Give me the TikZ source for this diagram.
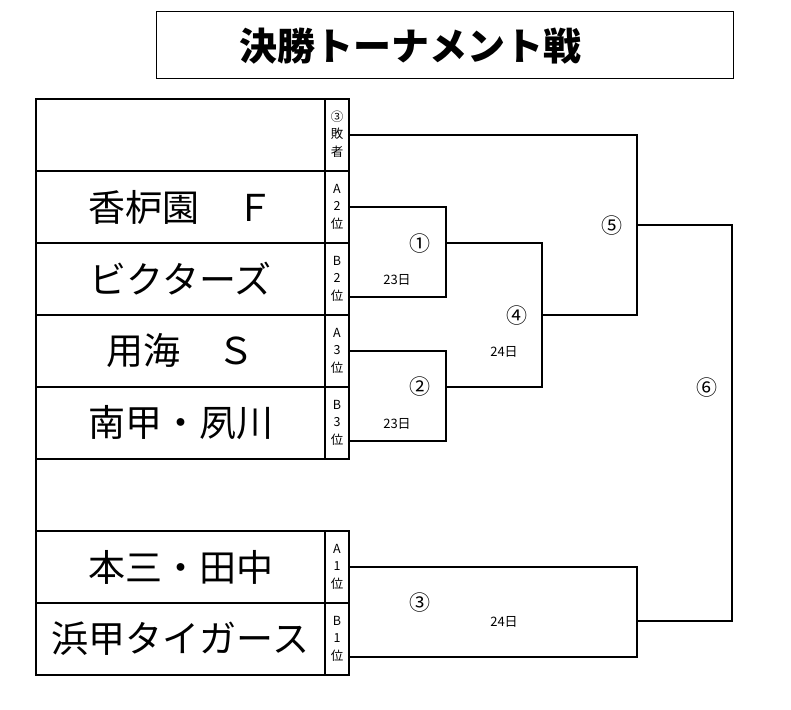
\documentclass[tikz,border=0pt]{standalone}
\usepackage{fontspec}
\setmainfont{Noto Sans CJK JP}
\usetikzlibrary{positioning}
\tikzset{
	every node/.style={font=\normalfont},
	teamcell/.style={rectangle,draw,outer sep=0pt,inner sep=0pt,
		minimum width=289pt,minimum height=72pt,font=\fontsize{37}{37}\selectfont}
}
\newcommand\rk[3]{\raisebox{22pt}{\begin{tabular}{@{}c@{}}#1\\#2\\#3\end{tabular}}}

\begin{document}
\begin{tikzpicture}[x=1pt,y=-1pt,line width=1.2pt,
	rankcell/.style={rectangle,draw,outer sep=0pt,inner sep=0pt,
		minimum width=24pt,minimum height=72pt,font=\fontsize{12.5}{17.5}\selectfont},
	titlebox/.style={rectangle,draw,line width=1pt,minimum width=577pt,minimum height=66pt},
	titletext/.style={font=\fontsize{38}{38}\selectfont\bfseries},
	numlbl/.style={font=\fontsize{21}{21}\selectfont},
	daylbl/.style={font=\fontsize{13}{13}\selectfont}]
	\useasboundingbox (0,0) rectangle (791,709);

	\node[titlebox] (title) at (444.5,45) {};
	\node[titletext] (ttl) at (410,46) {決勝トーナメント戦};

	% Teams
	\node[teamcell,anchor=north west] (t0) at (36,99) {};
	\node[teamcell] (t1) [below=0pt of t0] {香枦園　Ｆ};
	\node[teamcell] (t2) [below=0pt of t1] {ビクターズ};
	\node[teamcell] (t3) [below=0pt of t2] {用海　Ｓ};
	\node[teamcell] (t4) [below=0pt of t3] {南甲・夙川};
	\node[teamcell,anchor=north west] (t5) at (36,531) {本三・田中};
	\node[teamcell] (t6) [below=0pt of t5] {浜甲タイガース};

	\node[rankcell] (r0) [right=0pt of t0] {\rk{③}{敗}{者}};
	\node[rankcell] (r1) [right=0pt of t1] {\rk{A}{2}{位}};
	\node[rankcell] (r2) [right=0pt of t2] {\rk{B}{2}{位}};
	\node[rankcell] (r3) [right=0pt of t3] {\rk{A}{3}{位}};
	\node[rankcell] (r4) [right=0pt of t4] {\rk{B}{3}{位}};
	\node[rankcell] (r5) [right=0pt of t5] {\rk{A}{1}{位}};
	\node[rankcell] (r6) [right=0pt of t6] {\rk{B}{1}{位}};

	\draw (t4.south west) -- (t5.north west);

	% Bracket points
	\coordinate (s2) at ([yshift=-18pt]r2.east);
	\coordinate (s4) at ([yshift=-18pt]r4.east);
	\coordinate (s6) at ([yshift=-18pt]r6.east);
	\coordinate (m1) at (446,243);
	\coordinate (m2) at (446,387);
	\coordinate (m4) at (542,315);
	\coordinate (m5) at (637,225);
	\coordinate (m3) at (637,621);
	\coordinate (m6) at (732,388);

	% Bracket lines
	\draw (r1.east) -| (m1) |- (s2);
	\draw (r3.east) -| (m2) |- (s4);
	\draw (m1) -| (m4) |- (m2);
	\draw (r0.east) -| (m5) |- (m4);
	\draw (r5.east) -| (m3) |- (s6);
	\draw (m5) -| (m6) |- (m3);

	% Match labels
	\node[numlbl] (n1) at (420,244) {①};
	\node[daylbl] (d1) at (397,280) {23日};
	\node[numlbl] (n2) at (420,387) {②};
	\node[daylbl] (d2) at (397,424) {23日};
	\node[numlbl] (n4) at (517,316) {④};
	\node[daylbl] (d4) at (504,352) {24日};
	\node[numlbl] (n5) at (612,226) {⑤};
	\node[numlbl] (n6) at (707,388) {⑥};
	\node[numlbl] (n3) at (420,603) {③};
	\node[daylbl] (d3) at (504,622) {24日};
\end{tikzpicture}
\end{document}
